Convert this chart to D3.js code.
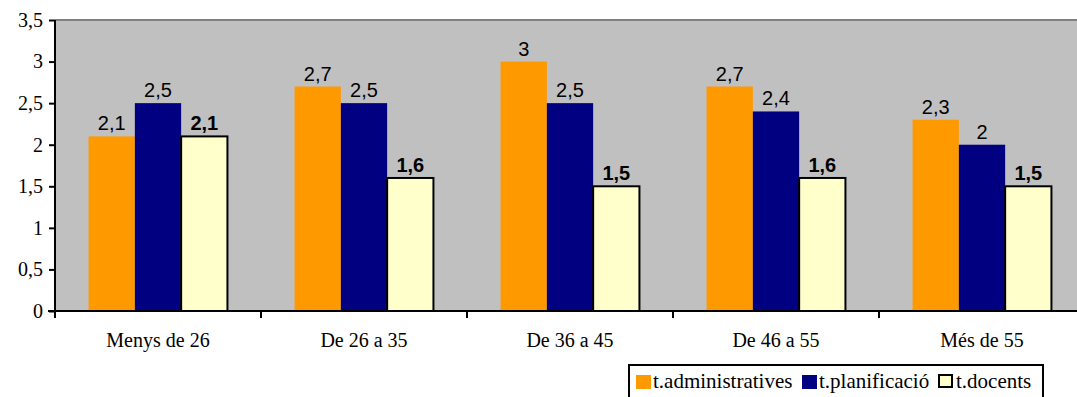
<!DOCTYPE html>
<html>
<head>
<meta charset="utf-8">
<script src="https://cdn.jsdelivr.net/npm/d3@7"></script>
<style>
  body { margin: 0; background: #fff; }
  svg { display: block; }
  .serif { font-family: "Liberation Serif", "Times New Roman", serif; }
  .sans { font-family: "Liberation Sans", Arial, sans-serif; }
</style>
</head>
<body>
<script>
const width = 1077;
const height = 397;

// data
const categories = ["Menys de 26", "De 26 a 35", "De 36 a 45", "De 46 a 55", "Més de 55"];
const seriesNames = ["t.administratives", "t.planificació", "t.docents"];
const administratives = [2.1, 2.7, 3, 2.7, 2.3];
const planificacio = [2.5, 2.5, 2.5, 2.4, 2];
const docents = [2.1, 1.6, 1.5, 1.6, 1.5];
const yTicks = [0, 0.5, 1, 1.5, 2, 2.5, 3, 3.5];

const colors = ["#FF9900", "#000080", "#FFFFCC"];
const series = [administratives, planificacio, docents];

const plotLeft = 55, plotRight = 1085, plotTop = 20, plotBottom = 311;

const svg = d3.select("body").append("svg")
    .attr("width", width)
    .attr("height", height);

const x = d3.scaleBand()
    .domain(categories)
    .range([plotLeft, plotRight])
    .padding(0);

const x1 = d3.scaleBand()
    .domain(d3.range(series.length))
    .range([0, x.bandwidth()])
    .paddingInner(0)
    .paddingOuter(0.725);

const y = d3.scaleLinear()
    .domain([0, 3.5])
    .range([plotBottom, plotTop]);

const fmt = d => String(d).replace(".", ",");

// plot background
svg.append("rect")
    .attr("x", plotLeft)
    .attr("y", plotTop)
    .attr("width", plotRight - plotLeft)
    .attr("height", plotBottom - plotTop)
    .style("fill", "#C0C0C0");

svg.append("line")
    .attr("x1", plotLeft).attr("x2", plotRight)
    .attr("y1", plotTop).attr("y2", plotTop)
    .style("stroke", "#808080")
    .style("stroke-width", 2);

// bars
const groups = svg.append("g")
    .selectAll("g")
    .data(series)
    .enter()
    .append("g");

groups.each(function(vals, si) {
    const g = d3.select(this);
    g.selectAll("rect")
        .data(vals)
        .enter()
        .append("rect")
        .attr("x", (d, i) => x(categories[i]) + x1(si))
        .attr("y", d => y(d))
        .attr("width", x1.bandwidth())
        .attr("height", d => plotBottom - y(d))
        .style("fill", colors[si])
        .style("stroke", si === 2 ? "#000" : "none")
        .style("stroke-width", si === 2 ? 2 : 0);

    g.selectAll("text")
        .data(vals)
        .enter()
        .append("text")
        .attr("class", "sans")
        .attr("x", (d, i) => x(categories[i]) + x1(si) + x1.bandwidth() / 2)
        .attr("y", d => y(d) - 6)
        .attr("text-anchor", "middle")
        .style("font-size", "20px")
        .style("font-weight", si === 2 ? "bold" : "normal")
        .style("fill", "#000")
        .text(d => fmt(d));
});

// y axis
const yAxis = svg.append("g")
    .attr("transform", `translate(${plotLeft},0)`)
    .call(d3.axisLeft(y).tickValues(yTicks).tickFormat(fmt).tickSize(6).tickPadding(6));

yAxis.attr("font-family", null).attr("font-size", null);
yAxis.select(".domain")
    .attr("d", `M0,${plotTop}V${plotBottom + 7}`)
    .style("stroke-width", 2);
yAxis.selectAll(".tick line").style("stroke-width", 2);
yAxis.selectAll("text")
    .attr("class", "serif")
    .style("font-size", "20px")
    .style("fill", "#000");

// x axis
const xAxis = svg.append("g")
    .attr("transform", `translate(0,${plotBottom})`);

xAxis.append("line")
    .attr("x1", plotLeft - 7).attr("x2", width)
    .attr("y1", 0).attr("y2", 0)
    .style("stroke", "#000")
    .style("stroke-width", 2);

xAxis.selectAll(".sep")
    .data(categories.slice(1))
    .enter()
    .append("line")
    .attr("class", "sep")
    .attr("x1", d => x(d)).attr("x2", d => x(d))
    .attr("y1", 0).attr("y2", 7)
    .style("stroke", "#000")
    .style("stroke-width", 2);

xAxis.selectAll(".lbl")
    .data(categories)
    .enter()
    .append("text")
    .attr("class", "lbl serif")
    .attr("x", d => x(d) + x.bandwidth() / 2)
    .attr("y", 36)
    .attr("text-anchor", "middle")
    .style("font-size", "20px")
    .text(d => d);

// legend
const legend = svg.append("g");
legend.append("rect")
    .attr("x", 629)
    .attr("y", 365)
    .attr("width", 414)
    .attr("height", 40)
    .style("fill", "#fff")
    .style("stroke", "#000")
    .style("stroke-width", 2);

const legendX = [636, 802, 939];
seriesNames.forEach((name, i) => {
    legend.append("rect")
        .attr("x", legendX[i])
        .attr("y", 375)
        .attr("width", i === 2 ? 13 : 15)
        .attr("height", i === 2 ? 12 : 14)
        .style("fill", colors[i])
        .style("stroke", i === 2 ? "#000" : "none")
        .style("stroke-width", 2);
    legend.append("text")
        .attr("class", "serif")
        .attr("x", legendX[i] + 17)
        .attr("y", 388)
        .style("font-size", "21px")
        .text(name);
});
</script>
</body>
</html>
